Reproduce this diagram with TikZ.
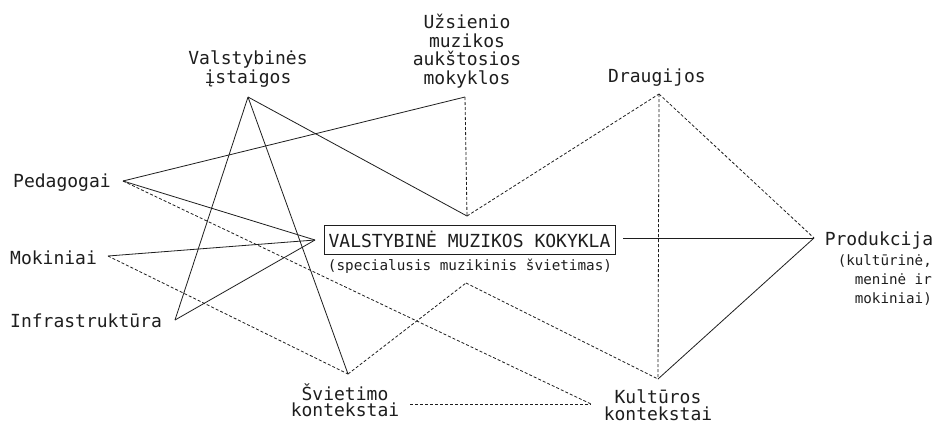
\documentclass[tikz,border=0pt]{standalone}
\usepackage{fontspec}
\newfontfamily\plexmono{DejaVu Sans Mono}
\definecolor{ink}{HTML}{1E1E1E}
\begin{document}
\begin{tikzpicture}[x=1pt,y=-1pt,
  lbl/.style={font=\plexmono\fontsize{18}{18.5}\selectfont, inner sep=0, align=center, text=ink},
  ctx/.style={lbl, font=\plexmono\fontsize{18}{16.7}\selectfont},
  sublbl/.style={font=\plexmono\fontsize{14.3}{16.5}\selectfont, inner sep=0, text=ink},
  conn/.style={draw=ink, line width=0.8pt},
  dsh/.style={conn, dash pattern=on 3pt off 2pt},
  mainbox/.style={draw=ink, line width=0.8pt, font=\plexmono\fontsize{18}{18.5}\selectfont, text=ink,
     minimum width=291pt, minimum height=29pt, inner sep=0}]
\useasboundingbox (0,0) rectangle (938,424);
\fill[white] (0,0) rectangle (938,424);

% labels (multi-line nodes: base = baseline of last line)
\node[lbl, anchor=base] (valst) at (248,83) {Valstybinės\\įstaigos};
\node[lbl, anchor=base] (uzs) at (467,84) {Užsienio\\muzikos\\aukštosios\\mokyklos};
\node[lbl, anchor=base] (draug) at (657,82) {Draugijos};
\node[lbl, anchor=base west] (ped) at (13,187) {Pedagogai};
\node[lbl, anchor=base west] (mok) at (10,264) {Mokiniai};
\node[lbl, anchor=base west] (infra) at (10,327) {Infrastruktūra};
\node[ctx, anchor=base] (svk) at (345,416.7) {Švietimo\\kontekstai};
\node[ctx, anchor=base] (kultk) at (658,420) {Kultūros\\kontekstai};
\node[lbl, anchor=base] (prod) at (879,245) {Produkcija};
\node[sublbl, font=\plexmono\fontsize{14.2}{19}\selectfont, anchor=base east, align=right] (prodsub) at (932,303) {(kultūrinė,\\meninė ir\\mokiniai)};
\node[mainbox] (box) at (469.5,239.5) {VALSTYBINĖ MUZIKOS KOKYKLA};
\node[sublbl, anchor=base] (boxsub) at (470,270) {(specialusis muzikinis švietimas)};

% connector ends
\coordinate (vT) at (248,97);
\coordinate (uT) at (465,97);
\coordinate (dT) at (659,94);
\coordinate (pT) at (123,181);
\coordinate (mT) at (108,256);
\coordinate (iT) at (175,320);
\coordinate (sT) at (348,374);
\coordinate (kT) at (658,379);
\coordinate (rT) at (814,238);
\coordinate (bL) at (315,240);
\coordinate (bR) at (623,238);
\coordinate (jTop) at (467,216);
\coordinate (jBot) at (466,283);
\coordinate (sR) at (410,404);
\coordinate (kL) at (591,404);

% solid connectors
\draw[conn] (pT) -- (uT);
\draw[conn] (pT) -- (bL);
\draw[conn] (mT) -- (bL);
\draw[conn] (iT) -- (bL);
\draw[conn] (vT) -- (iT);
\draw[conn] (vT) -- (sT);
\draw[conn] (vT) -- (jTop);
\draw[conn] (bR) -- (rT);
\draw[conn] (kT) -- (rT);

% dashed connectors
\draw[dsh] (uT) -- (jTop);
\draw[dsh] (jTop) -- (dT);
\draw[dsh] (dT) -- (kT);
\draw[dsh] (dT) -- (rT);
\draw[dsh] (pT) -- (kL);
\draw[dsh] (mT) -- (sT);
\draw[dsh] (sT) -- (jBot);
\draw[dsh] (jBot) -- (kT);
\draw[dsh] (sR) -- (kL);
\end{tikzpicture}
\end{document}
